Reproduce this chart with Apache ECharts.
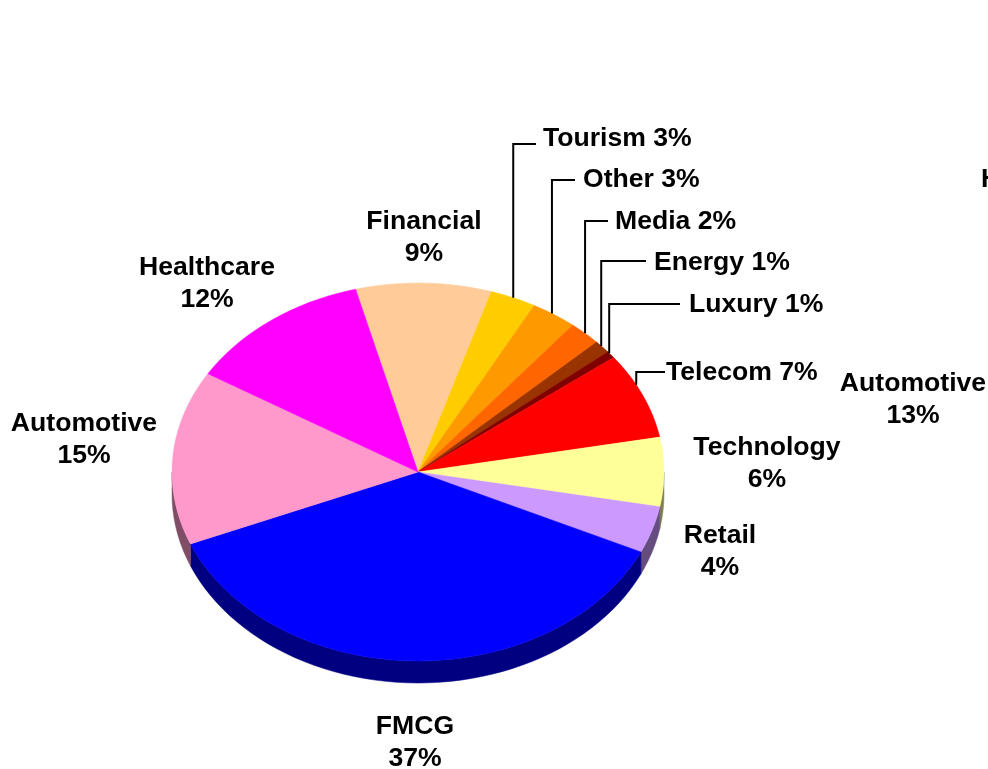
<!DOCTYPE html>
<html>
<head>
<meta charset="utf-8">
<style>
  html, body { margin: 0; padding: 0; background: #fff; }
  #chart { width: 988px; height: 769px; }
</style>
<script src="https://cdn.jsdelivr.net/npm/echarts@6/dist/echarts.min.js"></script>
</head>
<body>
<div id="chart"></div>
<script>
// chart data, clockwise from the Financial slice
const categories = ['Financial', 'Tourism', 'Other', 'Media', 'Energy', 'Luxury', 'Telecom', 'Technology', 'Retail', 'FMCG', 'Automotive', 'Healthcare'];
// slice sizes
const shares = [8.9, 3.0, 3.0, 2.1, 1.1, 0.6, 7.4, 5.9, 4.0, 36.8, 14.9, 12.2];
// percentages printed in the labels
const shareLabels = [9, 3, 3, 2, 1, 1, 7, 6, 4, 37, 15, 12];
const sliceColors = ['#ffcc99', '#ffcc00', '#ff9900', '#ff6600', '#993300', '#800000', '#ff0000', '#ffff99', '#cc99ff', '#0000ff', '#ff99cc', '#ff00ff'];
const wallColors = ['#80664d', '#806600', '#804d00', '#803300', '#4d1a00', '#400000', '#800000', '#80804d', '#664d80', '#000080', '#804d66', '#800080'];

// labels that belong to the chart cut off at the right edge of the picture
const strayLabels = ['Automotive\n13%', 'H'];

// label layout, same order as categories
const labelLayout = [
  { x: 424, y: 238, align: 'center', twoLines: true },
  { x: 543, y: 139, align: 'left', elbowY: 144, endX: 536 },
  { x: 583, y: 180, align: 'left', elbowY: 180, endX: 575, nudge: -0.6 },
  { x: 615, y: 222, align: 'left', elbowY: 221, endX: 608 },
  { x: 654, y: 263, align: 'left', elbowY: 261, endX: 646, nudge: -0.4 },
  { x: 689, y: 305, align: 'left', elbowY: 304, endX: 680, nudge: -0.6 },
  { x: 666, y: 373, align: 'left', elbowY: 372, endX: 665, nudge: -3.5 },
  { x: 767, y: 464, align: 'center', twoLines: true },
  { x: 720, y: 552, align: 'center', twoLines: true },
  { x: 415, y: 743, align: 'center', twoLines: true },
  { x: 84, y: 440, align: 'center', twoLines: true },
  { x: 207, y: 284, align: 'center', twoLines: true }
];
const strayLayout = [
  { x: 913, y: 400, align: 'center' },
  { x: 981, y: 180, align: 'left' }
];

const CENTER_X = 418;
const CENTER_Y = 472;
const RADIUS_X = 246;
const RADIUS_Y = 189;
const DEPTH = 22;
const START_ANGLE = -14.7;
const ARC_STEP = 2.5;
const FONT = 'bold 26.6px "Liberation Sans", Arial, sans-serif';

// 累计角度 start / end of every slice in degrees, clockwise from 12 o'clock
const total = shares.reduce((sum, v) => sum + v, 0);
let cursor = 0;
const sliceData = shares.map((v, i) => {
  const from = START_ANGLE + (cursor / total) * 360;
  cursor += v;
  return [i, from, START_ANGLE + (cursor / total) * 360];
});

function edgePoint(angle, drop) {
  const rad = (angle * Math.PI) / 180;
  return [
    CENTER_X + RADIUS_X * Math.sin(rad),
    CENTER_Y - RADIUS_Y * Math.cos(rad) + (drop || 0)
  ];
}

function arcPoints(from, to, drop) {
  const points = [];
  for (let a = from; a < to; a += ARC_STEP) {
    points.push(edgePoint(a, drop));
  }
  points.push(edgePoint(to, drop));
  return points;
}

function renderWall(params, api) {
  const i = api.value(0);
  // only the front half of the rim can be seen
  const from = Math.max(api.value(1), 90);
  const to = Math.min(api.value(2), 270);
  if (to <= from) return null;
  const points = arcPoints(from, to, 0).concat(arcPoints(from, to, DEPTH).reverse());
  return {
    type: 'polygon',
    shape: { points: points },
    style: { fill: wallColors[i], stroke: wallColors[i], lineWidth: 0.5 }
  };
}

function renderTop(params, api) {
  const i = api.value(0);
  const points = [[CENTER_X, CENTER_Y]].concat(arcPoints(api.value(1), api.value(2), 0));
  return {
    type: 'polygon',
    shape: { points: points },
    style: { fill: sliceColors[i], stroke: sliceColors[i], lineWidth: 0.5 }
  };
}

function renderLabel(params, api) {
  const i = api.value(0);
  const layout = labelLayout[i];
  const children = [{
    type: 'text',
    style: {
      text: categories[i] + (layout.twoLines ? '\n' : ' ') + shareLabels[i] + '%',
      x: layout.x,
      y: layout.y,
      align: layout.align,
      verticalAlign: 'middle',
      font: FONT,
      lineHeight: 32,
      fill: '#000'
    }
  }];
  if (layout.elbowY) {
    const mid = (api.value(1) + api.value(2)) / 2 + (layout.nudge || 0);
    const anchor = edgePoint(mid, 0);
    children.push({
      type: 'polyline',
      shape: { points: [anchor, [anchor[0], layout.elbowY], [layout.endX, layout.elbowY]] },
      style: { stroke: '#000', lineWidth: 2, fill: null }
    });
  }
  return { type: 'group', children: children };
}

function renderStray(params, api) {
  const i = api.value(0);
  return {
    type: 'text',
    style: {
      text: strayLabels[i],
      x: strayLayout[i].x,
      y: strayLayout[i].y,
      align: strayLayout[i].align,
      verticalAlign: 'middle',
      font: FONT,
      lineHeight: 32,
      fill: '#000'
    }
  };
}

const myChart = echarts.init(document.getElementById('chart'), null, { renderer: 'canvas' });
myChart.setOption({
  animation: false,
  backgroundColor: '#fff',
  series: [
    { type: 'custom', coordinateSystem: 'none', renderItem: renderWall, data: sliceData, silent: true, z: 1 },
    { type: 'custom', coordinateSystem: 'none', renderItem: renderTop, data: sliceData, silent: true, z: 2 },
    { type: 'custom', coordinateSystem: 'none', renderItem: renderLabel, data: sliceData, silent: true, z: 3 },
    { type: 'custom', coordinateSystem: 'none', renderItem: renderStray, data: strayLabels.map((s, i) => [i]), silent: true, z: 3 }
  ]
});
</script>
</body>
</html>
